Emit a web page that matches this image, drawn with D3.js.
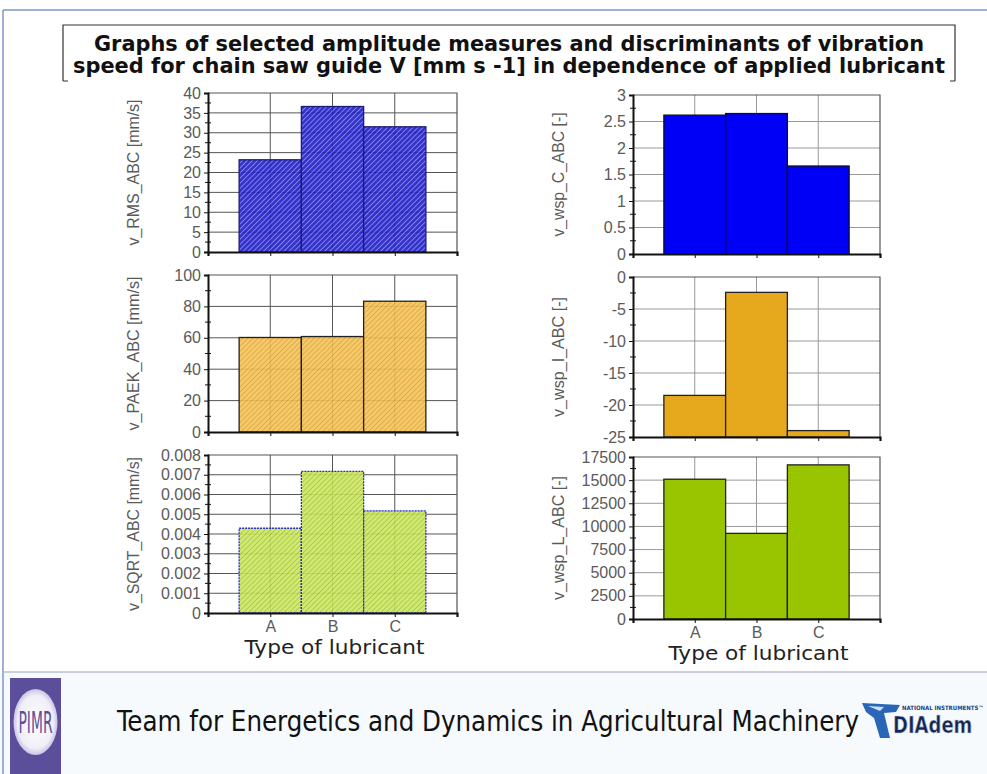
<!DOCTYPE html>
<html>
<head>
<meta charset="utf-8">
<script src="https://cdn.jsdelivr.net/npm/d3@7"></script>
<style>
  body { margin: 0; background: #fff; }
  svg { display: block; }
</style>
</head>
<body>
<svg id="chart" width="987" height="774"></svg>
<script>
const categories = ["A", "B", "C"];

const rmsValues = [23.2, 36.6, 31.5];
const wspCValues = [2.62, 2.65, 1.66];
const paekValues = [60.2, 60.8, 83.3];
const wspIValues = [-18.5, -2.4, -24.0];
const sqrtValues = [0.00429, 0.00717, 0.00517];
const wspLValues = [15100, 9250, 16650];

const rmsTicks = [0, 5, 10, 15, 20, 25, 30, 35, 40];
const wspCTicks = [0, 0.5, 1, 1.5, 2, 2.5, 3];
const paekTicks = [0, 20, 40, 60, 80, 100];
const wspITicks = [-25, -20, -15, -10, -5, 0];
const sqrtTicks = [0, 0.001, 0.002, 0.003, 0.004, 0.005, 0.006, 0.007, 0.008];
const wspLTicks = [0, 2500, 5000, 7500, 10000, 12500, 15000, 17500];

const titleLines = [
  "Graphs of selected amplitude measures and discriminants of vibration",
  "speed for chain saw guide V [mm s -1] in dependence of applied lubricant"
];
const xTitle = "Type of lubricant";
const footerText = "Team for Energetics and Dynamics in Agricultural Machinery";

const narrowFont = "'Liberation Sans Narrow', 'DejaVu Sans Condensed', 'DejaVu Sans', sans-serif";
const tickFont = "'Liberation Sans', Arial, sans-serif";

const svg = d3.select("#chart");
const defs = svg.append("defs");

// hatch patterns for the left column
const hatch = (id, base, stripe) => {
  const p = defs.append("pattern")
    .attr("id", id)
    .attr("patternUnits", "userSpaceOnUse")
    .attr("width", 3.6).attr("height", 3.6)
    .attr("patternTransform", "rotate(45)");
  p.append("rect").attr("width", 3.6).attr("height", 3.6).attr("fill", base);
  p.append("line").attr("x1", 0).attr("y1", 0).attr("x2", 0).attr("y2", 3.6)
    .attr("stroke", stripe).attr("stroke-width", 1.4);
};
hatch("hRms", "#1e1ec6", "#9494f0");
hatch("hPaek", "#f4c358", "#d6982a");
hatch("hSqrt", "#cde667", "#95bf16");

// page frame
svg.append("rect").attr("x", 0).attr("y", 673).attr("width", 987).attr("height", 101).attr("fill", "#f6fafd");
svg.append("line").attr("x1", 3).attr("y1", 10).attr("x2", 987).attr("y2", 10).attr("stroke", "#8096c4").attr("stroke-width", 1.5);
svg.append("line").attr("x1", 3).attr("y1", 10).attr("x2", 3).attr("y2", 774).attr("stroke", "#8096c4").attr("stroke-width", 1.5);
svg.append("line").attr("x1", 3).attr("y1", 672).attr("x2", 987).attr("y2", 672).attr("stroke", "#b4bfd2").attr("stroke-width", 1.5);

// title box
const tb = svg.append("g");
tb.append("path")
  .attr("d", "M63,81 L63,25 L955,25 L955,81 M63,81 L68,81 M955,81 L950,81")
  .attr("fill", "none").attr("stroke", "#333").attr("stroke-width", 1.2);
tb.selectAll("text").data(titleLines).enter().append("text")
  .attr("x", 509)
  .attr("y", (d, i) => 51 + i * 22)
  .attr("text-anchor", "middle")
  .attr("textLength", (d, i) => i === 0 ? 830 : 872)
  .attr("lengthAdjust", "spacingAndGlyphs")
  .style("font-family", narrowFont)
  .style("font-weight", "bold")
  .style("font-size", "21px")
  .style("fill", "#111")
  .text(d => d);

const panels = [
  {values: rmsValues, ticks: rmsTicks, label: "v_RMS_ABC [mm/s]", x0: 208, x1: 457, y0: 93, y1: 252,
   fill: "url(#hRms)", stroke: "#1c1c78", dash: null, op: 0.9, grid: "#555", labelLen: 146},
  {values: paekValues, ticks: paekTicks, label: "v_PAEK_ABC [mm/s]", x0: 208, x1: 457, y0: 275, y1: 432,
   fill: "url(#hPaek)", stroke: "#222", dash: null, op: 0.9, grid: "#555", labelLen: 154},
  {values: sqrtValues, ticks: sqrtTicks, label: "v_SQRT_ABC [mm/s]", x0: 208, x1: 457, y0: 455, y1: 613,
   fill: "url(#hSqrt)", stroke: "#2a2ad0", dash: "2,1", op: 0.9, grid: "#555", labelLen: 154, xLabels: true},
  {values: wspCValues, ticks: wspCTicks, label: "v_wsp_C_ABC [-]", x0: 633, x1: 880, y0: 95, y1: 254,
   fill: "#0000f6", stroke: "#111", dash: null, op: 1, grid: "#999", labelLen: 124},
  {values: wspIValues, ticks: wspITicks, label: "v_wsp_I_ABC [-]", x0: 633, x1: 880, y0: 277, y1: 437,
   fill: "#e6a81c", stroke: "#222", dash: null, op: 1, grid: "#999", labelLen: 120},
  {values: wspLValues, ticks: wspLTicks, label: "v_wsp_L_ABC [-]", x0: 633, x1: 880, y0: 457, y1: 619,
   fill: "#99c400", stroke: "#222", dash: null, op: 1, grid: "#999", labelLen: 124, xLabels: true}
];

const drawPanel = (p) => {
  const g = svg.append("g");
  const x = d3.scaleLinear().domain([0, 4]).range([p.x0, p.x1]);
  const lo = d3.min(p.ticks), hi = d3.max(p.ticks);
  const y = d3.scaleLinear().domain([lo, hi]).range([p.y1, p.y0]);
  const step = p.ticks[1] - p.ticks[0];

  // grid
  g.selectAll(".hg").data(p.ticks.slice(1, -1)).enter().append("line")
    .attr("x1", p.x0).attr("x2", p.x1)
    .attr("y1", d => y(d)).attr("y2", d => y(d))
    .attr("stroke", p.grid).attr("stroke-width", 1);
  g.selectAll(".vg").data([1, 2, 3]).enter().append("line")
    .attr("x1", d => x(d)).attr("x2", d => x(d))
    .attr("y1", p.y0).attr("y2", p.y1)
    .attr("stroke", p.grid).attr("stroke-width", 1);

  // bars
  g.selectAll(".bar").data(p.values).enter().append("rect")
    .attr("x", (d, i) => x(i + 0.5))
    .attr("width", (d, i) => x(i + 1.5) - x(i + 0.5))
    .attr("y", d => y(d))
    .attr("height", d => y(lo) - y(d))
    .attr("fill", p.fill)
    .attr("fill-opacity", p.op)
    .attr("stroke", p.stroke)
    .attr("stroke-width", 1.3)
    .attr("stroke-dasharray", p.dash);

  // frame (top / right)
  g.append("path")
    .attr("d", `M${p.x0},${p.y0} L${p.x1},${p.y0} L${p.x1},${p.y1}`)
    .attr("fill", "none").attr("stroke", "#555").attr("stroke-width", 1.2);

  // y axis
  const yAxis = d3.axisLeft(y).tickValues(p.ticks).tickSize(4).tickPadding(3)
    .tickFormat(d => String(+d.toPrecision(6)));
  const ya = g.append("g").attr("transform", `translate(${p.x0},0)`).call(yAxis);
  ya.select(".domain").attr("stroke", "#111").attr("stroke-width", 2);
  ya.selectAll(".tick line").attr("stroke", "#111");
  ya.selectAll("text")
    .style("font-family", tickFont).style("font-size", "16px").style("fill", "#5a5a5a");

  // minor ticks
  const minors = [];
  p.ticks.slice(0, -1).forEach(t => minors.push(t + step / 2));
  g.selectAll(".mt").data(minors).enter().append("line")
    .attr("x1", p.x0 - 3).attr("x2", p.x0 + 3)
    .attr("y1", d => y(d)).attr("y2", d => y(d))
    .attr("stroke", "#111").attr("stroke-width", 1);

  // x axis
  const xAxis = d3.axisBottom(x).tickValues([1, 2, 3]).tickSize(4).tickPadding(4)
    .tickFormat(d => p.xLabels ? categories[d - 1] : "");
  const xa = g.append("g").attr("transform", `translate(0,${p.y1})`).call(xAxis);
  xa.select(".domain").attr("stroke", "#111").attr("stroke-width", 2.2);
  xa.selectAll(".tick line").attr("stroke", "#111");
  xa.selectAll("text")
    .style("font-family", tickFont).style("font-size", "16px").style("fill", "#5a5a5a");

  // y label
  g.append("text")
    .attr("transform", `translate(${p.x0 - 75},${(p.y0 + p.y1) / 2}) rotate(-90)`)
    .attr("text-anchor", "middle")
    .attr("dy", "0.35em")
    .attr("textLength", p.labelLen)
    .attr("lengthAdjust", "spacingAndGlyphs")
    .style("font-family", tickFont).style("font-size", "16px").style("fill", "#5a5a5a")
    .text(p.label);

  if (p.xLabels) {
    g.append("text")
      .attr("x", (p.x0 + p.x1) / 2 + 2)
      .attr("y", p.y1 + 41)
      .attr("text-anchor", "middle")
      .attr("textLength", 180)
      .attr("lengthAdjust", "spacingAndGlyphs")
      .style("font-family", "'DejaVu Sans', Verdana, sans-serif")
      .style("font-size", "19px")
      .style("fill", "#222")
      .text(xTitle);
  }
};

panels.forEach(drawPanel);

// footer: PIMR logo
const logo = svg.append("g");
logo.append("rect").attr("x", 10).attr("y", 678).attr("width", 51).attr("height", 96).attr("fill", "#5b4f9c");
const rg = defs.append("radialGradient").attr("id", "oval");
rg.append("stop").attr("offset", "0%").attr("stop-color", "#ffffff");
rg.append("stop").attr("offset", "80%").attr("stop-color", "#f0eff8");
rg.append("stop").attr("offset", "100%").attr("stop-color", "#c9c4e2");
logo.append("ellipse").attr("cx", 35.5).attr("cy", 722).attr("rx", 22).attr("ry", 33).attr("fill", "url(#oval)");
logo.append("text").attr("x", 35.5).attr("y", 733)
  .attr("text-anchor", "middle")
  .attr("textLength", 34).attr("lengthAdjust", "spacingAndGlyphs")
  .style("font-family", narrowFont)
  .style("font-size", "30px").style("fill", "#5b4f9c")
  .text("PIMR");

svg.append("text")
  .attr("x", 117).attr("y", 731)
  .attr("textLength", 742).attr("lengthAdjust", "spacingAndGlyphs")
  .style("font-family", narrowFont)
  .style("font-size", "28px").style("fill", "#111")
  .text(footerText);

// footer: DIAdem logo
const di = svg.append("g");
di.append("path")
  .attr("d", "M862,703 L900,705 L896,712 L884,713 L890,738 L880,738 L874,718 L866,712 Z")
  .attr("fill", "#2a66b8");
di.append("path")
  .attr("d", "M868,706 L884,707 L880,711 Z")
  .attr("fill", "#cfe0f4");
di.append("text").attr("x", 902).attr("y", 710)
  .style("font-family", narrowFont).style("font-weight", "bold")
  .style("font-size", "6px").style("fill", "#1a3f84")
  .text("NATIONAL INSTRUMENTS™");
di.append("text")
  .attr("transform", "translate(893,733) scale(1,1.25)")
  .style("font-family", "'DejaVu Sans', sans-serif").style("font-weight", "bold")
  .style("font-size", "18px").style("fill", "#17254f")
  .style("stroke", "#c8d6ee").style("stroke-width", 0.5)
  .text("DIAdem");
</script>
</body>
</html>
